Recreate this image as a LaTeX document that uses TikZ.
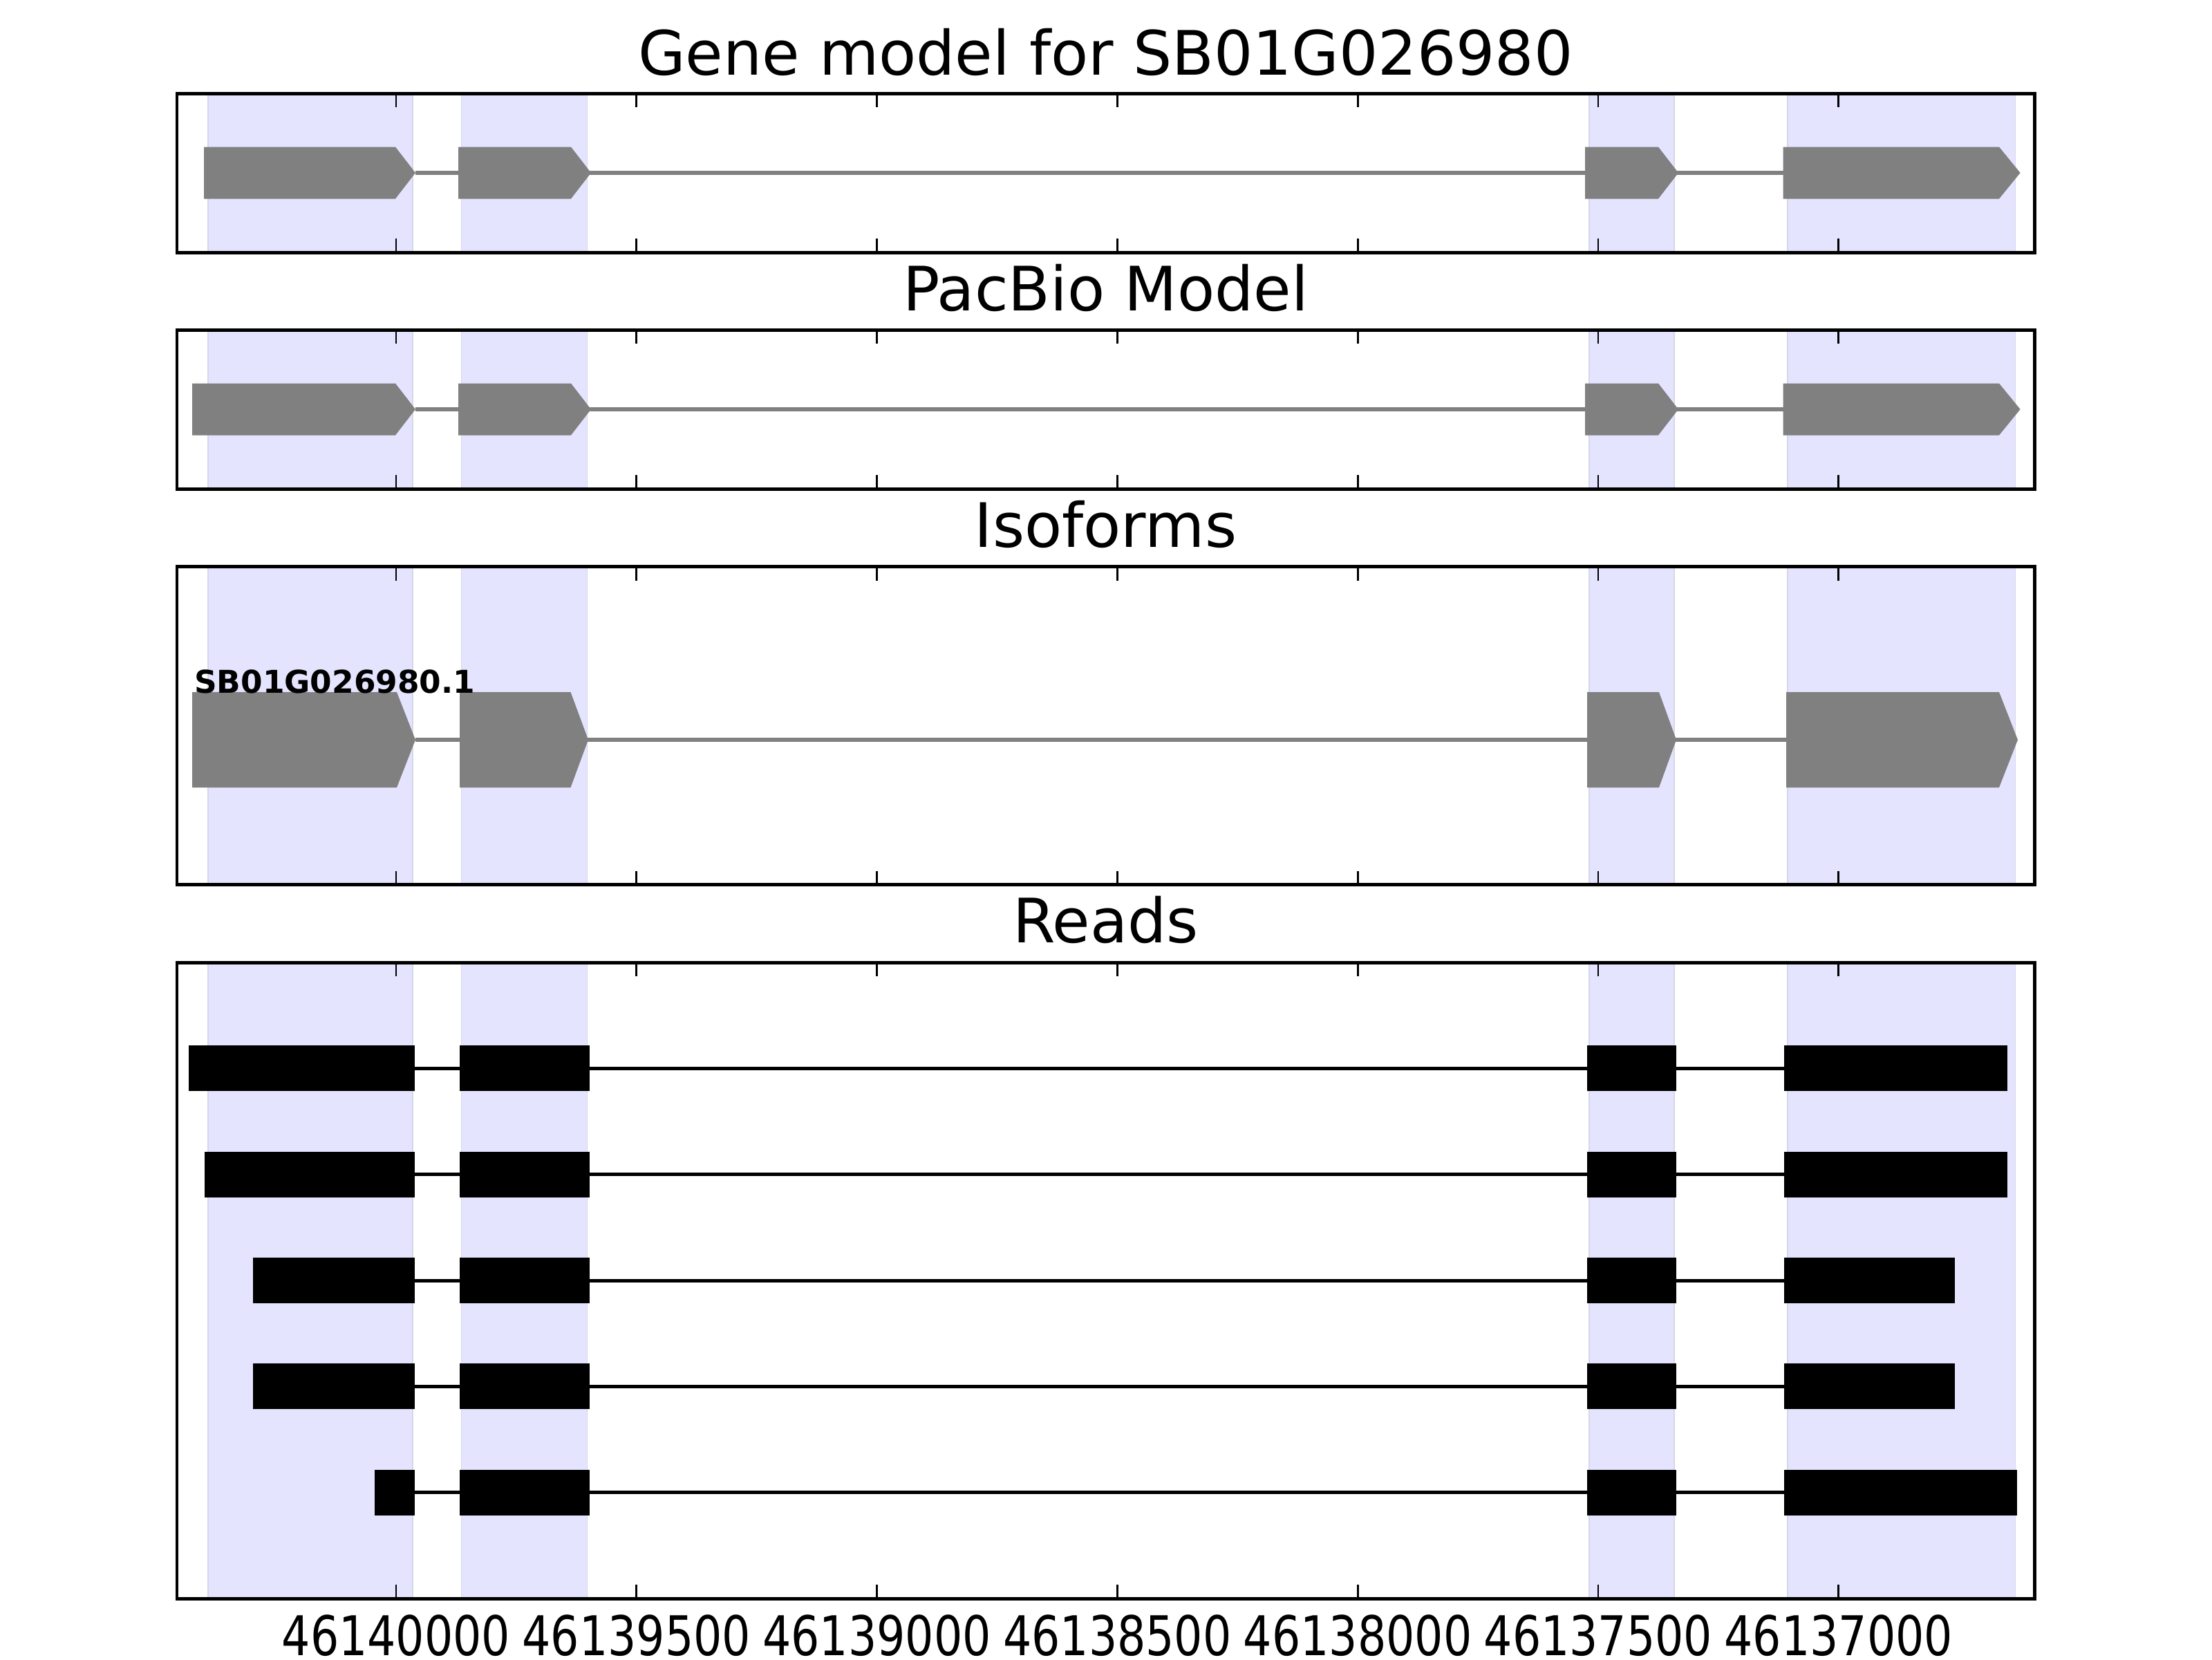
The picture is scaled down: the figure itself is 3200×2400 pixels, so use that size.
\documentclass[tikz,border=0pt]{standalone}
\usepackage{fontspec}
\setmainfont{DejaVu Sans}
\newfontfamily\tickfont[FakeStretch=0.82]{DejaVu Sans}
\definecolor{spanfill}{RGB}{228,228,254}
\definecolor{spanedge}{RGB}{214,214,234}
\definecolor{exongray}{RGB}{128,128,128}
\tikzset{
  panel/.style={draw=black, line width=0.9pt},
  hilite/.style={fill=spanfill, draw=spanedge, line width=0.3pt},
  exon/.style={fill=exongray},
  intron/.style={draw=exongray, line width=1pt},
  readintron/.style={draw=black, line width=0.9pt},
  tickmark/.style={line width=0.5pt},
  paneltitle/.style={font=\fontsize{16}{19}\selectfont, anchor=base, inner sep=0pt},
  ticklabel/.style={font=\tickfont\fontsize{14.3}{17}\selectfont, anchor=base, inner sep=0pt},
}
\begin{document}
\begin{tikzpicture}[x=0.00635cm, y=-0.00635cm]
    \useasboundingbox (0,0) rectangle (3200,2400);

    % highlighted exon spans in every panel
    \foreach \top/\bot in {135/365, 477.3/707.3, 819.7/1279.7, 1392/2312}{
        \foreach \l/\r in {301/597, 667.5/849.6, 2299/2422, 2586/2915.5}
            \draw[hilite] (\l,\top) rectangle (\r,\bot);
    }

    % gene model
    \draw[intron] (601,250) -- (2579.5,250);
    \foreach \a/\b/\c in {295/572/601, 663/826/855, 2293/2399/2428, 2579.5/2892/2922.6}
        \fill[exon] (\a,212.5) -- (\b,212.5) -- (\c,250) -- (\b,287.5) -- (\a,287.5) -- cycle;

    % pacbio model
    \draw[intron] (601,592) -- (2579.5,592);
    \foreach \a/\b/\c in {278/572/601, 663/826/855, 2293/2399/2428, 2579.5/2892/2922.6}
        \fill[exon] (\a,554.5) -- (\b,554.5) -- (\c,592) -- (\b,629.5) -- (\a,629.5) -- cycle;

    % isoforms
    \draw[intron] (601,1070) -- (2584,1070);
    \foreach \a/\b/\c in {278/574/601, 665/825.5/851, 2296/2400/2425, 2584/2892/2919}
        \fill[exon] (\a,1001) -- (\b,1001) -- (\c,1070) -- (\b,1139) -- (\a,1139) -- cycle;
    \node[anchor=base west, inner sep=0pt, font=\bfseries\fontsize{8.2}{10}\selectfont]
        (iso) at (280,1002) {SB01G026980.1};

    % reads
    \foreach \yc/\a/\c in {1545.3/273/2904, 1698.7/295.6/2904, 1852/366/2828, 2005.3/366/2828, 2158.7/542/2917.5}{
        \draw[readintron] (600,\yc) -- (2581,\yc);
        \foreach \l/\r in {\a/600, 665/853, 2296/2425, 2581/\c}
            \fill[black] (\l,\yc-33) rectangle (\r,\yc+33);
    }

    % frames and ticks
    \foreach \top/\bot in {135/365, 477.3/707.3, 819.7/1279.7, 1392/2312}{
        \foreach \k in {0,...,6}{
            \pgfmathsetmacro\tx{573+347.8*\k}
            \draw[tickmark] (\tx,\top) -- (\tx,\top+20);
            \draw[tickmark] (\tx,\bot) -- (\tx,\bot-20);
        }
        \draw[panel] (256,\top) rectangle (2943,\bot);
    }

    \node[paneltitle] (t1) at (1599.5,108) {Gene model for SB01G026980};
    \node[paneltitle] (t2) at (1599.5,449.3) {PacBio Model};
    \node[paneltitle] (t3) at (1599.5,791.7) {Isoforms};
    \node[paneltitle] (t4) at (1599.5,1363.5) {Reads};

    \foreach \k/\lab in {0/46140000, 1/46139500, 2/46139000, 3/46138500, 4/46138000, 5/46137500, 6/46137000}
        \node[ticklabel] (lab\k) at ({573+347.8*\k},2394) {\lab};
\end{tikzpicture}
\end{document}
